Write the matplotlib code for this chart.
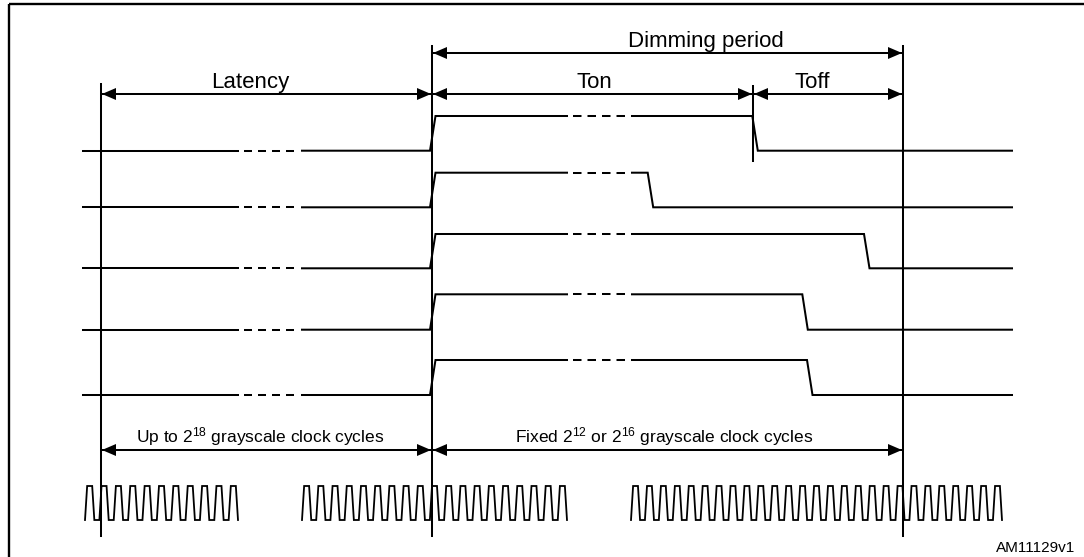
import matplotlib
matplotlib.use("Agg")
import matplotlib.pyplot as plt
from matplotlib.patches import Polygon

plt.rcParams['font.family'] = ['Liberation Sans', 'DejaVu Sans']
plt.rcParams['mathtext.fontset'] = 'custom'
plt.rcParams['mathtext.rm'] = 'Liberation Sans'
plt.rcParams['mathtext.it'] = 'Liberation Sans:italic'
plt.rcParams['lines.scale_dashes'] = False

# ---------------- data (pixel units of the drawing) ----------------
signal_low = [150.7, 207.3, 268.3, 329.7, 395.0]
signal_high = [116.0, 172.7, 234.0, 294.3, 360.0]
signal_fall = [752.3, 647.7, 864.0, 802.3, 807.0]
signal_span = [83, 1012]
rise_x = 430
edge_w = 5.5
gap_low = [238, 302]
gap_high = [567, 632]

marker_latency = 101
marker_dim_start = 432
marker_ton_end = 753
marker_dim_end = 903

clock_bursts = [(85, 238), (302, 567), (631, 1002)]
clock_cycles = [11, 19, 27]
clock_levels = [520, 486]

arrow_rows = [
    # (x0, x1, y, label, label_x, label_y, fontsize)
    (marker_dim_start, marker_dim_end, 53, "Dimming period", 706, 47, 16),
    (marker_latency, marker_dim_start, 94, "Latency", 250, 88, 16),
    (marker_dim_start, marker_ton_end, 94, "Ton", 594, 88, 16),
    (marker_ton_end, marker_dim_end, 94, "Toff", 812, 88, 16),
    (marker_latency, marker_dim_start, 450, "Up to 2$^{18}$ grayscale clock cycles", 260, 442, 12.5),
    (marker_dim_start, marker_dim_end, 450, "Fixed 2$^{12}$ or 2$^{16}$ grayscale clock cycles", 664, 442, 12.5),
]
ref_label = "AM11129v1"

# ---------------- drawing ----------------
W, H = 1084, 557
fig = plt.figure(figsize=(W / 100, H / 100), dpi=100)
ax = fig.add_axes([0, 0, 1, 1])
ax.set_xlim(0, W)
ax.set_ylim(H, 0)
ax.axis('off')

LW = 1.45
PX = 0.72  # points per pixel at 100 dpi


def dashed(x0, x1, y, n=4, gap=6.0):
    dash = (x1 - x0 - (n - 1) * gap) / n
    ax.plot([x0, x1], [y, y], color='black', lw=LW,
            linestyle=(0, (dash * PX, gap * PX)), solid_capstyle='butt',
            dash_capstyle='butt')


def arrow_head(x_tip, y, direction, length=14, half=6):
    pts = [(x_tip, y), (x_tip - direction * length, y - half),
           (x_tip - direction * length, y + half)]
    ax.add_patch(Polygon(pts, closed=True, color='black', lw=0))


# border (top and left)
ax.plot([9, W], [4, 4], color='black', lw=1.7, solid_capstyle='butt')
ax.plot([9, 9], [4, H], color='black', lw=1.7, solid_capstyle='butt')

# signals
for lo, hi, fall in zip(signal_low, signal_high, signal_fall):
    ax.plot([signal_span[0], gap_low[0]], [lo, lo], color='black', lw=LW)
    dashed(gap_low[0] + 6, gap_low[1] - 8, lo)
    xs = [gap_low[1], rise_x, rise_x + edge_w, gap_high[0]]
    ys = [lo, lo, hi, hi]
    ax.plot(xs, ys, color='black', lw=LW, solid_joinstyle='miter')
    dashed(gap_high[0] + 6, gap_high[1] - 7, hi)
    xs = [gap_high[1], fall, fall + edge_w, signal_span[1]]
    ys = [hi, hi, lo, lo]
    ax.plot(xs, ys, color='black', lw=LW, solid_joinstyle='miter')

# clock bursts
c_lo, c_hi = clock_levels
for (a, b), n in zip(clock_bursts, clock_cycles):
    p = (b - a) / (n - 0.35)
    xs, ys = [], []
    for k in range(n):
        x0 = a + k * p
        xs += [x0, x0 + 0.15 * p, x0 + 0.5 * p, x0 + 0.65 * p]
        ys += [c_lo, c_hi, c_hi, c_lo]
    ax.plot(xs, ys, color='black', lw=1.3, solid_joinstyle='miter')

# vertical marker lines
ax.plot([marker_latency] * 2, [84, 536], color='black', lw=LW)
ax.plot([marker_dim_start] * 2, [46, 536], color='black', lw=LW)
ax.plot([marker_dim_end] * 2, [46, 536], color='black', lw=LW)
ax.plot([marker_ton_end] * 2, [86, 161], color='black', lw=LW)

# dimension arrows and labels
for x0, x1, y, label, lx, ly, fs in arrow_rows:
    ax.plot([x0 + 2, x1 - 2], [y, y], color='black', lw=LW)
    arrow_head(x0 + 1, y, -1)
    arrow_head(x1 - 1, y, 1)
    ax.text(lx, ly, label, ha='center', va='baseline', fontsize=fs)

ax.text(1075, 548, ref_label, ha='right', va='center', fontsize=11)

fig.savefig("out.png", dpi=100)
